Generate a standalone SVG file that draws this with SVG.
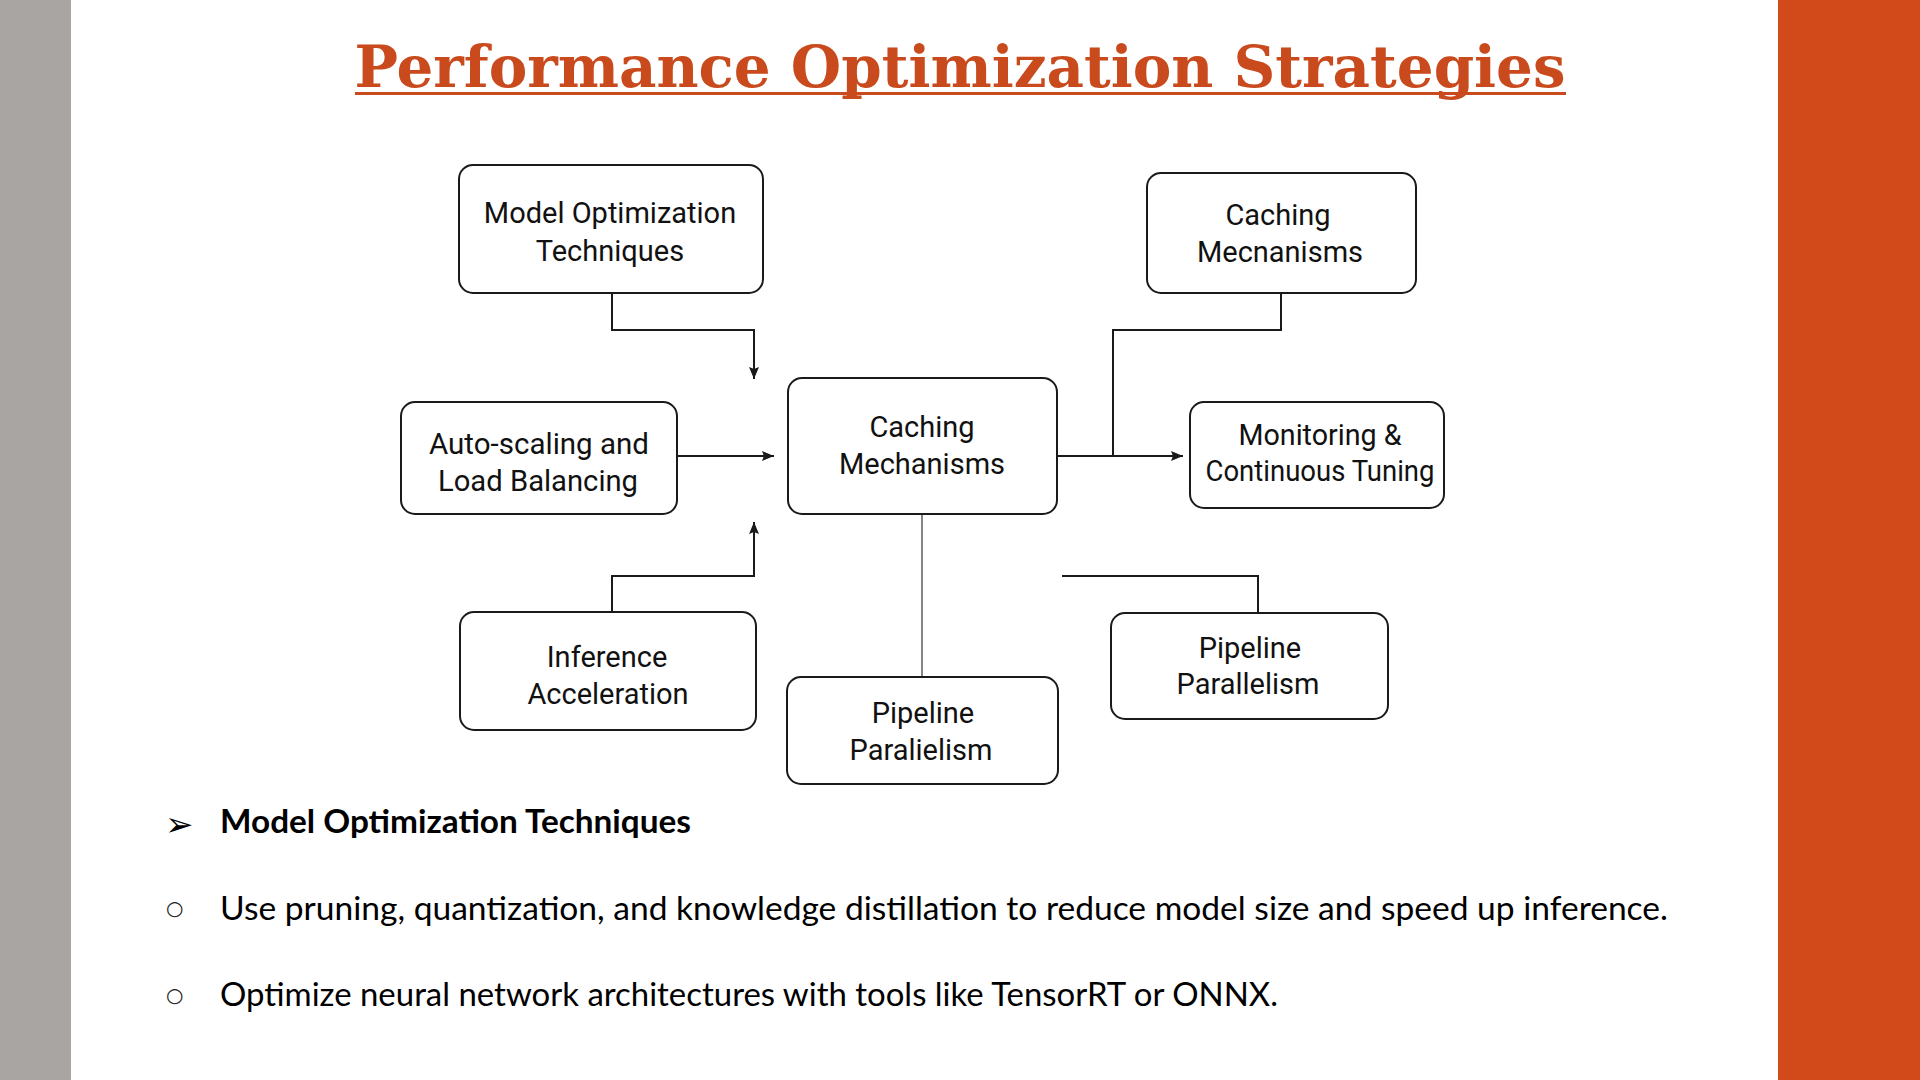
<svg xmlns="http://www.w3.org/2000/svg" width="1920" height="1080" viewBox="0 0 1920 1080">
<style>
.node rect{fill:#ffffff;stroke:#1a1a1a;stroke-width:2}
.node text{font-family:Roboto,"Liberation Sans",sans-serif;font-size:29px;fill:#111111;text-anchor:middle}
.conn{fill:none;stroke:#1a1a1a;stroke-width:2}
.thin{fill:none;stroke:#333333;stroke-width:1.2}
.body{font-family:Lato,"Open Sans",sans-serif;font-size:32px;fill:#000000}
</style>
<defs>
<marker id="arr" viewBox="0 0 12 10" refX="12" refY="5" markerWidth="12" markerHeight="10" markerUnits="userSpaceOnUse" orient="auto">
<path d="M0,0 L12,5 L0,10 L2,5 Z" fill="#1a1a1a"/>
</marker>
</defs>
<rect x="0" y="0" width="1920" height="1080" fill="#ffffff"/>
<rect x="0" y="0" width="71" height="1080" fill="#a8a5a3"/>
<rect x="1778" y="0" width="142" height="1080" fill="#d24a1a"/>
<g id="title">
<text x="960" y="87" text-anchor="middle" textLength="1211" lengthAdjust="spacingAndGlyphs" font-family="'DejaVu Serif','Liberation Serif',serif" font-weight="bold" font-size="58" fill="#c94a1d">Performance Optimization Strategies</text>
<rect x="355" y="92" width="1211" height="3" fill="#c94a1d"/>
</g>
<g id="connectors">
<path class="conn" d="M612,293 V330 H754 V379" marker-end="url(#arr)"/>
<path class="conn" d="M677,456 H774" marker-end="url(#arr)"/>
<path class="conn" d="M612,612 V576 H754 V522" marker-end="url(#arr)"/>
<path class="conn" d="M1057,456 H1183" marker-end="url(#arr)"/>
<path class="conn" d="M1281,293 V330 H1113 V456"/>
<path class="thin" d="M922,514 V677"/>
<path class="conn" d="M1062,576 H1258 V613"/>
</g>
<g id="n1" class="node">
<rect x="459" y="165" width="304" height="128" rx="14"/>
<text x="610" y="223">Model Optimization</text>
<text x="610" y="261">Techniques</text>
</g>
<g id="n2" class="node">
<rect x="1147" y="173" width="269" height="120" rx="14"/>
<text x="1278" y="225">Caching</text>
<text x="1280" y="262">Mecnanisms</text>
</g>
<g id="n3" class="node">
<rect x="401" y="402" width="276" height="112" rx="14"/>
<text x="539" y="454" textLength="220" lengthAdjust="spacingAndGlyphs">Auto-scaling and</text>
<text x="538" y="491" textLength="200" lengthAdjust="spacingAndGlyphs">Load Balancing</text>
</g>
<g id="n4" class="node">
<rect x="788" y="378" width="269" height="136" rx="14"/>
<text x="922" y="437">Caching</text>
<text x="922" y="474">Mechanisms</text>
</g>
<g id="n5" class="node">
<rect x="1190" y="402" width="254" height="106" rx="14"/>
<text x="1320" y="445" textLength="163" lengthAdjust="spacingAndGlyphs">Monitoring &amp;</text>
<text x="1320" y="481" textLength="229" lengthAdjust="spacingAndGlyphs">Continuous Tuning</text>
</g>
<g id="n6" class="node">
<rect x="460" y="612" width="296" height="118" rx="14"/>
<text x="607" y="667">Inference</text>
<text x="608" y="704">Acceleration</text>
</g>
<g id="n7" class="node">
<rect x="787" y="677" width="271" height="107" rx="14"/>
<text x="923" y="723">Pipeline</text>
<text x="921" y="760">Paralielism</text>
</g>
<g id="n8" class="node">
<rect x="1111" y="613" width="277" height="106" rx="14"/>
<text x="1250" y="658">Pipeline</text>
<text x="1248" y="694">Parallelism</text>
</g>
<g id="bullets">
<text x="165" y="836" font-family="'DejaVu Sans',sans-serif" font-size="34" fill="#000">➢</text>
<text x="220" y="833" class="body" font-weight="bold" textLength="471" lengthAdjust="spacingAndGlyphs">Model Optimization Techniques</text>
<text x="166" y="915" font-family="'DejaVu Sans',sans-serif" font-size="20" fill="#222">○</text>
<text x="220" y="920" class="body" textLength="1448" lengthAdjust="spacingAndGlyphs">Use pruning, quantization, and knowledge distillation to reduce model size and speed up inference.</text>
<text x="166" y="1002" font-family="'DejaVu Sans',sans-serif" font-size="20" fill="#222">○</text>
<text x="220" y="1006" class="body" textLength="1058" lengthAdjust="spacingAndGlyphs">Optimize neural network architectures with tools like TensorRT or ONNX.</text>
</g>
</svg>
